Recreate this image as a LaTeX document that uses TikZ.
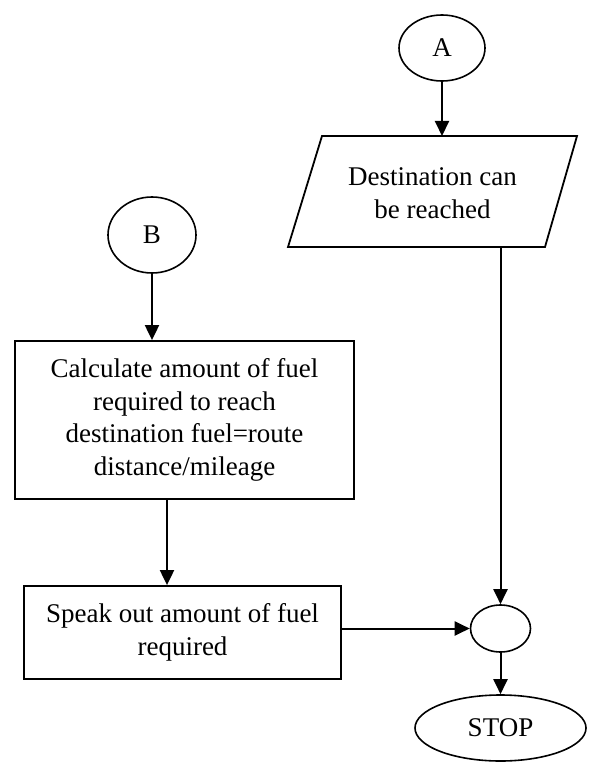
\documentclass[tikz,border=0pt]{standalone}
\usepackage{fontspec}
\setmainfont{Liberation Serif}
\usetikzlibrary{shapes.geometric,arrows.meta}
\begin{document}
\begin{tikzpicture}[x=1pt,y=-1pt,
  line width=2pt,
  every node/.style={font=\fontsize{27}{32.5}\selectfont, inner sep=0pt},
  oval/.style={draw, ellipse, line width=1.6pt},
  box/.style={draw, rectangle, align=center, line width=1.8pt},
  arr/.style={line width=2pt, -{Triangle[length=15pt,width=14pt]}}]
\useasboundingbox (0,0) rectangle (594,762);
% connector A
\node[oval, minimum width=86pt, minimum height=66pt] (A) at (442,48) {A};
% parallelogram
\coordinate (PTL) at (322,136);
\coordinate (PTR) at (577,136);
\coordinate (PBR) at (545,247);
\coordinate (PBL) at (288,247);
\draw[line width=1.8pt] (PTL) -- (PTR) -- (PBR) -- (PBL) -- cycle;
\node[align=center] (P) at (432.5,193) {Destination can\\be reached};
\coordinate (Ptop) at (442,136);
\coordinate (Pbot) at (500.5,247);
% B and boxes
\node[oval, minimum width=88pt, minimum height=76pt] (B) at (152,235) {B};
\node[box, minimum width=339pt, minimum height=158pt] (R1) at (184.5,420)
  {Calculate amount of fuel\\required to reach\\destination fuel=route\\distance/mileage};
\node[box, minimum width=317pt, minimum height=93pt] (R2) at (182.5,632.5)
  {Speak out amount of fuel\\required};
% junction and stop
\node[oval, minimum width=60pt, minimum height=47pt] (C) at (500.5,628.5) {};
\node[oval, minimum width=171pt, minimum height=66pt] (S) at (500.5,728) {STOP};
% arrows
\draw[arr] (A.south) -- (Ptop);
\draw[arr] (Pbot) -- (Pbot |- C.north);
\draw[arr] (B.south) -- (B.south |- R1.north);
\draw[arr] ([xshift=-17.5pt]R1.south) -- ([xshift=-17.5pt]R1.south |- R2.north);
\draw[arr] (R2.east |- C.west) -- (C.west);
\draw[arr] (C.south) -- (S.north);
\end{tikzpicture}
\end{document}
